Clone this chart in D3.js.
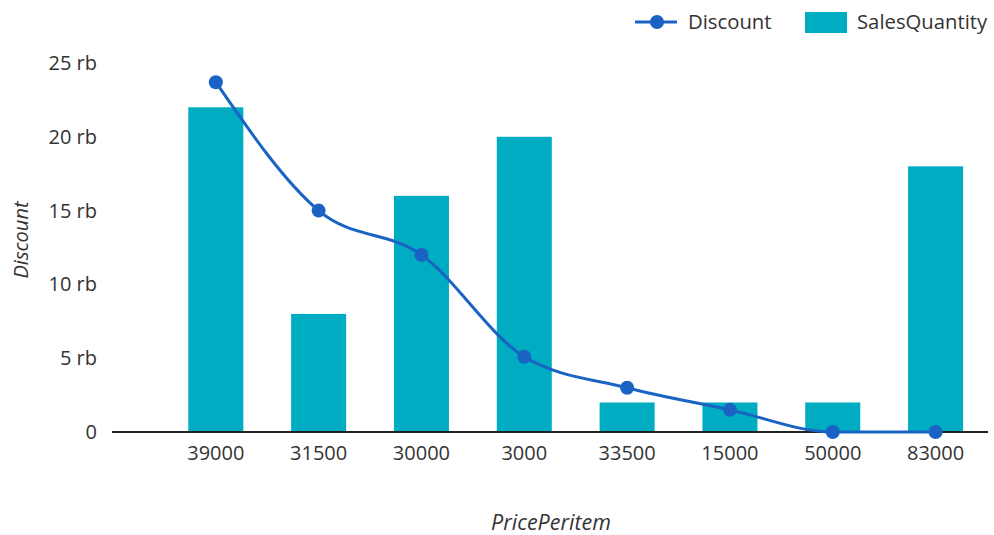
<!DOCTYPE html>
<html><head><meta charset="utf-8">
<script src="https://cdn.jsdelivr.net/npm/d3@7"></script>
<style>
html,body{margin:0;padding:0;background:#fff;}
text{font-family:"Open Sans",sans-serif;}
</style></head>
<body>
<svg id="chart" width="994" height="535"></svg>
<script>
const categories = ["39000","31500","30000","3000","33500","15000","50000","83000"];
const discount = [23700, 15000, 12000, 5100, 3000, 1500, 0, 0];
const salesQuantity = [22, 8, 16, 20, 2, 2, 2, 18];
const yTicks = [0, 5000, 10000, 15000, 20000, 25000];

const svg = d3.select("#chart");
const textColor = "#333";
const barColor = "#00acc1";
const lineColor = "#1a63c4";

const plotLeft = 112, plotRight = 988, plotTop = 63, plotBottom = 432;

const x = d3.scaleBand().domain(categories).range([164.4, 987]).paddingInner(0.465).paddingOuter(0.2325);
const y = d3.scaleLinear().domain([0, 25000]).range([plotBottom, plotTop]);
const y2 = d3.scaleLinear().domain([0, 25]).range([plotBottom, plotTop]);

// bars
svg.append("g").selectAll("rect").data(salesQuantity).join("rect")
  .attr("x", (d,i) => x(categories[i]))
  .attr("y", d => y2(d))
  .attr("width", x.bandwidth())
  .attr("height", d => y2(0) - y2(d))
  .attr("fill", barColor);

// y axis
const yAxis = d3.axisLeft(y).tickValues(yTicks).tickSize(0).tickPadding(0)
  .tickFormat(d => d === 0 ? "0" : (d/1000) + " rb");
const gy = svg.append("g").attr("transform", "translate(97,0)").call(yAxis);
gy.select(".domain").remove();
gy.selectAll("text").attr("font-size", 20).attr("fill", textColor).attr("font-family", "Open Sans");

// x axis
const xAxis = d3.axisBottom(x).tickSize(0).tickPadding(14);
const gx = svg.append("g").attr("transform", `translate(0,${plotBottom})`).call(xAxis);
gx.select(".domain").remove();
gx.selectAll("text").attr("font-size", 20).attr("fill", textColor).attr("font-family", "Open Sans");
svg.append("line").attr("x1", plotLeft).attr("x2", plotRight).attr("y1", plotBottom).attr("y2", plotBottom)
  .attr("stroke", "#222").attr("stroke-width", 2);

// line
const line = d3.line().x((d,i) => x(categories[i]) + x.bandwidth()/2).y(d => y(d)).curve(d3.curveMonotoneX);
svg.append("path").datum(discount).attr("d", line).attr("fill", "none")
  .attr("stroke", lineColor).attr("stroke-width", 3);
svg.append("g").selectAll("circle").data(discount).join("circle")
  .attr("cx", (d,i) => x(categories[i]) + x.bandwidth()/2)
  .attr("cy", d => y(d)).attr("r", 7).attr("fill", lineColor);

// axis titles
svg.append("text").attr("transform", "translate(28,240) rotate(-90)")
  .attr("text-anchor", "middle").attr("font-size", 20).attr("font-style", "italic")
  .attr("fill", textColor).text("Discount");
svg.append("text").attr("x", 551).attr("y", 530)
  .attr("text-anchor", "middle").attr("font-size", 21.5).attr("font-style", "italic")
  .attr("fill", textColor).text("PricePeritem");

// legend
const lg = svg.append("g");
lg.append("line").attr("x1", 635).attr("x2", 677).attr("y1", 22).attr("y2", 22)
  .attr("stroke", lineColor).attr("stroke-width", 3);
lg.append("circle").attr("cx", 657).attr("cy", 22).attr("r", 7).attr("fill", lineColor);
lg.append("text").attr("x", 688).attr("y", 29).attr("font-size", 20.3).attr("fill", textColor).text("Discount");
lg.append("rect").attr("x", 805).attr("y", 12).attr("width", 42).attr("height", 21).attr("fill", barColor);
lg.append("text").attr("x", 857).attr("y", 29).attr("font-size", 20.3).attr("fill", textColor).text("SalesQuantity");
</script>
</body></html>
